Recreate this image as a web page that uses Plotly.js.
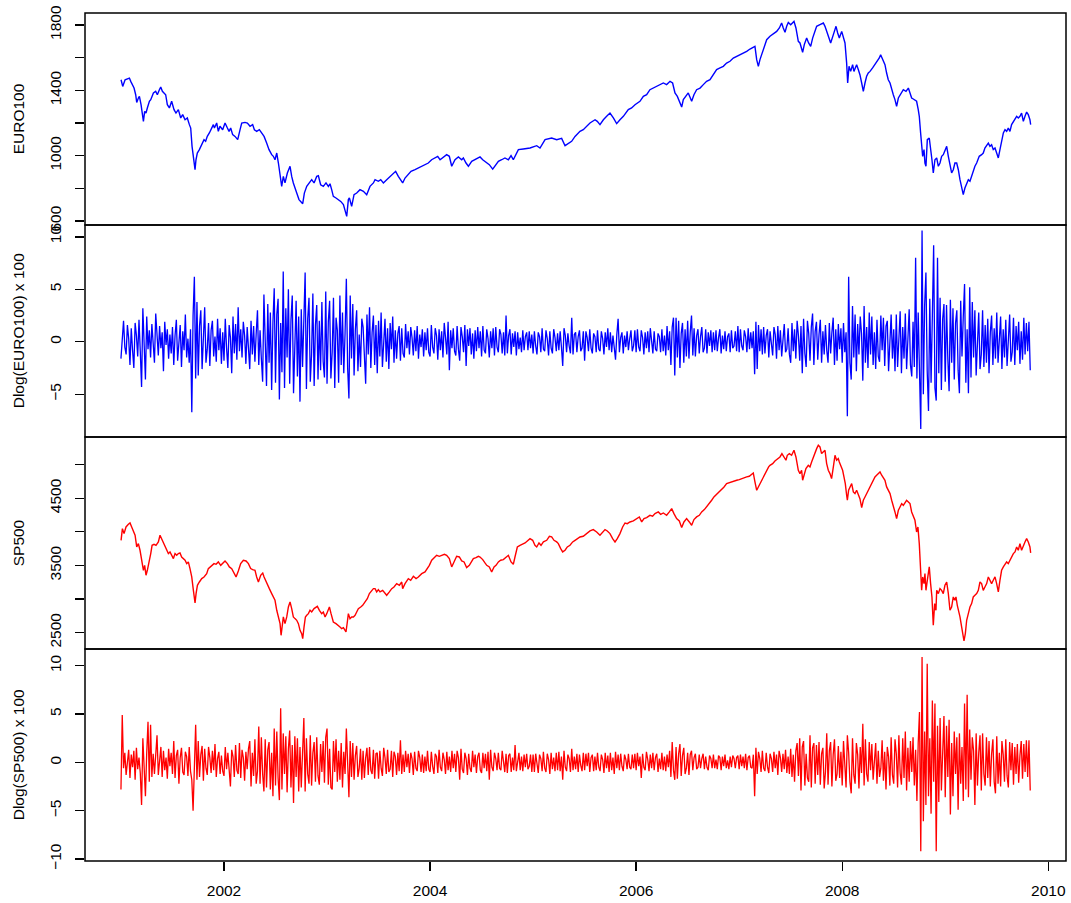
<!DOCTYPE html>
<html><head><meta charset="utf-8">
<script src="https://cdn.plot.ly/plotly-3.0.1.min.js"></script>
<style>html,body{margin:0;padding:0;background:#fff}#chart{width:1071px;height:903px}</style>
</head><body><div id="chart"></div>
<script>
// ---- x axis ----
const xTicks = [2002, 2004, 2006, 2008, 2010];
const xTickLabels = ['2002', '2004', '2006', '2008', '2010'];

// ---- EURO100 level (decimal year, value) ----
const euroT = [
2001.001,2001.017,2001.040,2001.082,2001.095,2001.114,2001.127,2001.143,2001.153,2001.169,2001.179,2001.195,2001.208,2001.218,2001.230,2001.243,2001.256,2001.276,2001.289,2001.315,
2001.337,2001.353,2001.373,2001.386,2001.402,2001.421,2001.434,2001.450,2001.470,2001.492,2001.515,2001.534,2001.557,2001.580,2001.599,2001.622,2001.644,2001.664,2001.677,2001.690,
2001.703,2001.719,2001.728,2001.741,2001.761,2001.783,2001.806,2001.822,2001.838,2001.858,2001.874,2001.897,2001.907,2001.929,2001.945,2001.961,2001.987,2002.010,2002.033,2002.049,
2002.065,2002.084,2002.107,2002.133,2002.156,2002.172,2002.204,2002.227,2002.253,2002.278,2002.295,2002.317,2002.343,2002.366,2002.389,2002.414,2002.437,2002.463,2002.479,2002.495,
2002.512,2002.528,2002.544,2002.560,2002.576,2002.592,2002.615,2002.641,2002.657,2002.673,2002.706,2002.728,2002.764,2002.780,2002.803,2002.828,2002.851,2002.874,2002.900,2002.916,
2002.938,2002.964,2002.990,2003.013,2003.029,2003.045,2003.061,2003.087,2003.110,2003.133,2003.159,2003.175,2003.191,2003.207,2003.217,2003.239,2003.262,2003.288,2003.320,2003.353,
2003.385,2003.417,2003.450,2003.466,2003.498,2003.521,2003.547,2003.579,2003.611,2003.644,2003.666,2003.692,2003.734,2003.757,2003.783,2003.815,2003.854,2003.886,2003.919,2003.951,
2003.983,2004.015,2004.048,2004.074,2004.097,2004.122,2004.161,2004.187,2004.210,2004.242,2004.275,2004.307,2004.323,2004.349,2004.372,2004.404,2004.436,2004.485,2004.511,2004.550,
2004.575,2004.608,2004.640,2004.663,2004.695,2004.727,2004.760,2004.786,2004.808,2004.834,2004.857,2004.905,2004.970,2005.035,2005.067,2005.116,2005.148,2005.180,2005.229,2005.277,
2005.310,2005.342,2005.374,2005.407,2005.455,2005.487,2005.520,2005.552,2005.601,2005.623,2005.649,2005.682,2005.714,2005.746,2005.779,2005.811,2005.843,2005.876,2005.924,2005.956,
2005.989,2006.037,2006.070,2006.102,2006.134,2006.167,2006.199,2006.231,2006.264,2006.296,2006.329,2006.354,2006.377,2006.400,2006.442,2006.458,2006.484,2006.506,2006.539,2006.561,
2006.587,2006.620,2006.652,2006.684,2006.717,2006.749,2006.781,2006.814,2006.846,2006.878,2006.911,2006.943,2006.976,2007.008,2007.040,2007.073,2007.105,2007.137,2007.153,2007.170,
2007.186,2007.202,2007.218,2007.241,2007.267,2007.299,2007.331,2007.364,2007.390,2007.412,2007.428,2007.445,2007.461,2007.477,2007.500,2007.519,2007.532,2007.551,2007.574,2007.590,
2007.616,2007.632,2007.655,2007.674,2007.694,2007.713,2007.736,2007.752,2007.784,2007.817,2007.833,2007.849,2007.865,2007.888,2007.914,2007.940,2007.956,2007.972,2007.995,2008.011,
2008.027,2008.043,2008.053,2008.066,2008.082,2008.101,2008.114,2008.127,2008.140,2008.156,2008.172,2008.189,2008.205,2008.221,2008.237,2008.253,2008.270,2008.295,2008.318,2008.341,
2008.360,2008.373,2008.392,2008.415,2008.431,2008.447,2008.464,2008.480,2008.496,2008.512,2008.528,2008.545,2008.561,2008.577,2008.593,2008.619,2008.642,2008.658,2008.674,2008.690,
2008.706,2008.722,2008.738,2008.748,2008.761,2008.771,2008.781,2008.794,2008.803,2008.813,2008.826,2008.845,2008.858,2008.871,2008.884,2008.900,2008.917,2008.933,2008.949,2008.965,
2008.981,2008.997,2009.014,2009.030,2009.046,2009.062,2009.078,2009.094,2009.111,2009.127,2009.143,2009.159,2009.175,2009.191,2009.208,2009.224,2009.240,2009.256,2009.272,2009.288,
2009.305,2009.330,2009.353,2009.369,2009.385,2009.402,2009.418,2009.434,2009.450,2009.466,2009.483,2009.499,2009.515,2009.531,2009.547,2009.564,2009.580,2009.596,2009.612,2009.628,
2009.644,2009.661,2009.677,2009.693,2009.709,2009.725,2009.741,2009.758,2009.774,2009.790,2009.806,2009.822,2009.829];
const euroLevel = [
1465,1424,1465,1475,1455,1435,1414,1373,1326,1353,1363,1312,1261,1210,1271,1261,1292,1333,1343,1384,
1394,1373,1404,1420,1394,1384,1373,1312,1292,1333,1282,1261,1282,1231,1251,1220,1231,1190,1169,1057,
975,914,975,1016,1037,1067,1098,1088,1118,1139,1159,1190,1169,1200,1149,1180,1159,1200,1169,1149,
1169,1129,1118,1098,1159,1200,1204,1200,1180,1190,1159,1149,1159,1139,1118,1077,1037,1006,996,975,
1016,955,873,812,873,833,894,935,873,833,771,731,706,771,812,833,853,833,873,877,
822,812,833,812,828,792,751,741,731,720,700,669,628,731,741,690,761,771,792,782,
761,812,833,853,843,853,833,853,873,894,904,873,833,863,884,904,914,924,935,945,
955,975,986,996,975,986,1006,996,935,975,992,975,986,955,935,965,975,992,975,955,
945,918,945,965,975,986,975,1000,975,1006,1037,1041,1047,1061,1047,1098,1102,1108,1098,1106,
1061,1077,1088,1118,1149,1159,1180,1200,1220,1210,1190,1220,1241,1261,1231,1196,1220,1241,1282,1292,
1312,1333,1363,1373,1404,1414,1424,1435,1445,1435,1455,1445,1384,1363,1298,1343,1363,1384,1333,1373,
1404,1414,1435,1455,1465,1496,1527,1537,1547,1567,1578,1598,1608,1618,1629,1639,1653,1665,1669,1588,
1547,1588,1618,1659,1710,1731,1747,1761,1782,1812,1782,1755,1792,1816,1802,1812,1822,1782,1700,1690,
1633,1680,1720,1690,1669,1720,1761,1792,1802,1812,1792,1761,1731,1690,1741,1792,1751,1720,1761,1731,
1690,1567,1445,1547,1516,1557,1516,1537,1557,1527,1496,1445,1394,1445,1486,1506,1516,1537,1557,1578,
1598,1618,1588,1557,1506,1465,1445,1404,1373,1343,1302,1353,1373,1384,1404,1394,1414,1384,1353,1347,
1339,1333,1282,1241,1139,1057,996,1037,955,935,1098,1108,1016,975,894,975,986,935,955,996,
1006,1026,1057,996,935,894,914,955,955,914,853,812,761,802,833,853,843,873,914,935,
955,996,1006,1016,1047,1067,1077,1057,1067,1037,1047,1016,986,1037,1088,1139,1159,1149,1169,1149,
1190,1210,1220,1241,1231,1241,1261,1210,1241,1267,1251,1220,1190];

// ---- SP500 level (decimal year, value) ----
const spT = [
2001.001,2001.014,2001.030,2001.049,2001.072,2001.088,2001.104,2001.120,2001.137,2001.153,2001.169,2001.185,2001.201,2001.218,2001.230,2001.243,2001.256,2001.276,2001.289,2001.302,
2001.321,2001.340,2001.363,2001.379,2001.395,2001.412,2001.428,2001.444,2001.460,2001.476,2001.492,2001.509,2001.525,2001.541,2001.557,2001.573,2001.589,2001.606,2001.622,2001.638,
2001.654,2001.670,2001.687,2001.703,2001.719,2001.729,2001.742,2001.761,2001.784,2001.806,2001.832,2001.848,2001.865,2001.881,2001.903,2001.923,2001.945,2001.968,2001.987,2002.010,
2002.033,2002.052,2002.075,2002.097,2002.117,2002.139,2002.162,2002.188,2002.214,2002.237,2002.259,2002.278,2002.301,2002.317,2002.334,2002.356,2002.376,2002.389,2002.414,2002.440,
2002.463,2002.479,2002.495,2002.512,2002.528,2002.544,2002.554,2002.567,2002.576,2002.592,2002.609,2002.625,2002.641,2002.657,2002.673,2002.689,2002.706,2002.722,2002.738,2002.754,
2002.764,2002.777,2002.790,2002.803,2002.819,2002.835,2002.851,2002.874,2002.893,2002.906,2002.926,2002.948,2002.964,2002.981,2002.997,2003.013,2003.023,2003.039,2003.061,2003.087,
2003.110,2003.126,2003.142,2003.159,2003.175,2003.184,2003.197,2003.207,2003.223,2003.239,2003.256,2003.272,2003.288,2003.304,2003.327,2003.346,2003.369,2003.391,2003.411,2003.433,
2003.450,2003.466,2003.482,2003.498,2003.514,2003.540,2003.563,2003.579,2003.605,2003.628,2003.650,2003.676,2003.702,2003.725,2003.734,2003.757,2003.789,2003.812,2003.838,2003.864,
2003.886,2003.919,2003.951,2003.974,2003.993,2004.016,2004.038,2004.064,2004.090,2004.113,2004.139,2004.161,2004.187,2004.210,2004.233,2004.258,2004.284,2004.307,2004.330,2004.355,
2004.381,2004.404,2004.420,2004.446,2004.469,2004.485,2004.511,2004.533,2004.550,2004.575,2004.598,2004.621,2004.640,2004.663,2004.685,2004.711,2004.737,2004.760,2004.786,2004.808,
2004.824,2004.847,2004.873,2004.899,2004.922,2004.944,2004.970,2004.996,2005.018,2005.035,2005.057,2005.077,2005.100,2005.132,2005.158,2005.180,2005.203,2005.229,2005.245,2005.268,
2005.287,2005.310,2005.332,2005.358,2005.384,2005.407,2005.429,2005.455,2005.487,2005.520,2005.552,2005.584,2005.617,2005.649,2005.675,2005.698,2005.720,2005.746,2005.772,2005.795,
2005.817,2005.843,2005.869,2005.892,2005.914,2005.940,2005.973,2006.005,2006.031,2006.054,2006.076,2006.102,2006.134,2006.160,2006.183,2006.215,2006.238,2006.264,2006.296,2006.322,
2006.345,2006.367,2006.393,2006.419,2006.442,2006.464,2006.490,2006.516,2006.539,2006.561,2006.587,2006.613,2006.636,2006.662,2006.684,2006.710,2006.733,2006.755,2006.781,2006.807,
2006.830,2006.853,2006.878,2006.904,2006.927,2006.950,2006.976,2007.001,2007.024,2007.047,2007.073,2007.098,2007.121,2007.137,2007.153,2007.170,2007.186,2007.202,2007.218,2007.241,
2007.267,2007.286,2007.299,2007.325,2007.347,2007.370,2007.396,2007.415,2007.435,2007.454,2007.467,2007.487,2007.509,2007.532,2007.551,2007.574,2007.590,2007.606,2007.616,2007.632,
2007.648,2007.671,2007.687,2007.703,2007.720,2007.736,2007.752,2007.768,2007.784,2007.800,2007.817,2007.833,2007.849,2007.865,2007.881,2007.897,2007.914,2007.930,2007.946,2007.962,
2007.972,2007.988,2008.004,2008.017,2008.030,2008.043,2008.050,2008.062,2008.075,2008.092,2008.108,2008.124,2008.140,2008.156,2008.172,2008.189,2008.205,2008.221,2008.237,2008.253,
2008.270,2008.286,2008.302,2008.318,2008.334,2008.350,2008.367,2008.383,2008.399,2008.415,2008.431,2008.447,2008.464,2008.480,2008.496,2008.512,2008.528,2008.545,2008.561,2008.577,
2008.593,2008.609,2008.625,2008.642,2008.658,2008.674,2008.690,2008.706,2008.722,2008.735,2008.748,2008.761,2008.771,2008.781,2008.794,2008.803,2008.813,2008.826,2008.836,2008.845,
2008.858,2008.871,2008.884,2008.897,2008.910,2008.917,2008.933,2008.949,2008.965,2008.981,2008.997,2009.014,2009.030,2009.046,2009.062,2009.078,2009.094,2009.104,2009.117,2009.130,
2009.143,2009.159,2009.175,2009.182,2009.195,2009.208,2009.224,2009.240,2009.256,2009.272,2009.288,2009.305,2009.321,2009.337,2009.353,2009.369,2009.385,2009.402,2009.418,2009.434,
2009.450,2009.466,2009.483,2009.499,2009.515,2009.531,2009.547,2009.564,2009.580,2009.596,2009.612,2009.628,2009.644,2009.661,2009.677,2009.693,2009.709,2009.725,2009.741,2009.758,
2009.774,2009.790,2009.806,2009.822,2009.829];
const spLevel = [
3874,4048,3974,4073,4112,4132,4073,3998,3949,3775,3825,3726,3552,3428,3502,3354,3428,3552,3676,3800,
3815,3800,3850,3949,3899,3825,3800,3726,3676,3701,3651,3602,3676,3651,3676,3686,3626,3602,3577,3527,
3552,3453,3329,3130,2942,3081,3205,3254,3304,3329,3378,3453,3478,3502,3527,3517,3552,3502,3527,3567,
3527,3478,3453,3378,3329,3418,3527,3577,3567,3527,3453,3438,3428,3329,3254,3354,3388,3329,3230,3155,
3081,3031,2982,2833,2734,2634,2461,2634,2734,2634,2734,2882,2957,2858,2734,2709,2684,2634,2535,2486,
2411,2585,2734,2758,2783,2833,2808,2858,2882,2892,2833,2783,2808,2734,2783,2858,2882,2783,2659,2634,
2610,2585,2560,2575,2535,2510,2659,2783,2709,2734,2734,2758,2808,2858,2882,2907,2957,3006,3081,3130,
3155,3155,3106,3140,3106,3130,3081,3056,3106,3155,3180,3230,3205,3254,3155,3230,3304,3279,3339,3304,
3329,3378,3403,3453,3502,3577,3616,3651,3636,3651,3666,3651,3602,3478,3552,3636,3626,3567,3552,3468,
3502,3552,3602,3616,3636,3626,3587,3537,3502,3478,3403,3478,3502,3552,3577,3587,3616,3651,3552,3517,
3626,3775,3800,3815,3835,3865,3899,3874,3800,3775,3835,3800,3850,3874,3934,3924,3874,3850,3825,3750,
3701,3726,3775,3800,3850,3874,3899,3924,3934,3974,4013,4033,3998,3949,3998,4033,4013,3974,3899,3850,
3899,3974,4073,4132,4122,4147,4162,4197,4222,4147,4197,4212,4246,4232,4271,4296,4261,4281,4246,4296,
4346,4271,4197,4162,4063,4147,4197,4147,4098,4182,4222,4246,4296,4331,4370,4420,4470,4519,4559,4594,
4628,4668,4718,4728,4742,4757,4767,4777,4792,4807,4817,4827,4856,4876,4742,4618,4668,4718,4767,4827,
4916,4966,4990,5015,5055,5090,5114,5164,5104,5065,5139,5164,5139,5214,5114,4916,4866,4916,4767,4866,
4941,4990,4966,5040,5114,5189,5238,5288,5263,5164,5189,5214,5015,4916,4866,4792,4966,5139,5065,5090,
5040,4966,4916,4817,4718,4544,4470,4618,4668,4718,4594,4569,4618,4544,4494,4360,4470,4519,4569,4618,
4668,4742,4792,4817,4842,4866,4891,4842,4792,4767,4668,4618,4569,4470,4395,4296,4197,4321,4370,4420,
4395,4445,4470,4445,4420,4296,4222,4172,3998,4073,3825,3428,3130,3329,3230,3378,3130,3279,3428,3478,
3230,3031,2610,2932,2833,3130,3081,3155,3130,3081,3205,3254,3081,2833,2882,3031,2982,3031,2907,2833,
2734,2585,2436,2376,2486,2684,2783,2882,2932,3031,3056,3081,3130,3254,3230,3130,3180,3230,3329,3279,
3230,3279,3329,3230,3106,3279,3428,3478,3527,3552,3527,3577,3602,3676,3701,3775,3726,3825,3726,3800,
3850,3899,3850,3775,3686];

// ---- log-returns x 100, read every 0.0125 year from 2001.000 (one row = one quarter) ----
const retStart = 2001.0;
const retStep = 0.0125;
const euroRet = [
// 2001
-1.6,0.8,2.0,-0.5,-1.2,1.6,0.3,-2.2,1.3,-0.8,-2.5,1.8,0.6,-1.4,2.1,-0.9,-4.3,3.2,-1.1,-3.6,
2.4,-0.7,1.1,-1.5,1.7,-0.4,-2.0,2.7,0.5,-1.3,1.5,-0.6,0.9,-2.8,1.9,-0.3,1.2,-1.6,0.7,-1.1,
1.4,-2.2,0.6,2.1,-1.8,0.4,1.6,-2.4,1.0,-0.8,2.6,-1.5,0.3,-2.0,1.2,-6.7,2.5,6.2,-3.5,3.8,
-3.2,1.5,3.0,-2.6,0.8,3.3,-2.0,-0.7,1.8,-2.3,1.1,2.0,-1.4,0.5,-1.9,2.2,-0.8,1.3,-2.1,0.9,
// 2002
-1.8,2.2,-0.6,-2.5,1.6,0.4,-3.0,2.4,-1.1,1.7,-1.7,3.3,-0.9,1.2,-1.5,1.9,0.6,-2.1,1.4,-0.8,
-2.6,2.0,-1.2,1.5,-1.9,0.8,3.0,-2.2,1.1,-1.6,-3.8,4.5,-1.5,-4.2,3.6,-2.0,2.8,-4.6,1.9,5.1,
-3.9,2.6,4.1,-5.5,1.8,-2.9,6.7,-4.4,3.2,-1.5,5.0,-4.0,2.1,4.4,-4.9,0.9,3.9,-3.3,2.4,-5.7,
3.1,-2.4,1.4,6.6,-4.5,2.2,4.2,-3.8,-1.2,4.6,-4.2,1.6,3.5,-3.6,2.0,-2.7,3.8,-1.9,-3.4,4.8,
// 2003
-4.0,1.9,3.9,-3.5,-1.0,4.2,-4.4,2.3,1.1,-3.9,4.4,-2.2,2.8,-3.0,0.8,6.0,-2.5,-5.4,4.4,-1.6,
3.6,-3.2,1.2,3.0,-2.8,0.7,-2.4,2.2,1.4,-1.9,-4.0,2.6,-1.2,3.3,-2.5,0.9,2.5,-2.2,1.6,-3.0,
2.0,-1.4,2.8,-2.4,0.6,2.2,-1.9,1.3,-2.6,1.8,-0.7,2.4,-2.0,1.1,-1.6,0.8,1.5,-1.8,1.3,-1.1,
-1.5,1.7,-0.6,1.0,-1.2,1.4,0.4,-1.3,1.1,-0.9,1.5,-1.6,0.7,-0.5,1.2,-1.4,0.9,-0.8,1.3,-1.0,
// 2004
-1.4,1.6,-0.5,-1.1,1.3,0.6,-1.7,1.2,-0.8,1.0,-1.5,1.8,0.4,-1.2,1.9,-2.7,1.1,-0.6,1.3,-0.9,
-1.3,1.5,-0.7,-1.8,1.4,0.5,-1.0,1.6,-2.3,1.2,-0.4,1.3,-1.2,0.8,-1.6,1.1,-0.9,1.4,-0.6,1.0,
-1.4,1.5,-0.8,-1.1,1.2,0.3,-1.5,1.0,-0.6,1.3,-1.3,1.4,-0.5,-1.0,1.2,0.7,-1.1,0.9,-1.3,2.5,
-1.1,0.6,1.2,-1.2,0.8,-0.5,1.0,-1.3,0.9,-0.7,0.4,-1.0,1.1,-0.8,0.5,0.9,-0.8,1.0,-0.6,0.7,
// 2005
-1.1,1.0,-0.4,-1.2,0.9,0.5,-1.0,1.3,-0.7,-0.9,1.1,0.3,-1.3,1.0,-0.6,-1.1,1.2,0.4,-0.9,0.8,
-0.8,1.0,-0.5,-2.3,1.3,0.6,-1.0,0.8,-0.4,-1.1,2.3,-1.2,0.7,0.9,-1.0,0.5,1.1,-0.9,-0.6,1.0,
-1.8,1.0,0.4,-0.9,1.2,-0.6,-1.1,0.8,0.5,-1.0,1.1,-0.7,-0.9,1.0,0.3,-1.2,0.9,-0.5,1.3,-0.8,
0.9,-1.0,0.6,-0.8,-1.7,0.7,2.2,-1.0,0.4,0.9,-1.1,0.6,-0.5,1.0,-0.8,0.3,1.1,-0.9,-0.4,1.1,
// 2006
-1.0,1.2,-0.5,-0.9,1.1,0.4,-1.2,0.9,-0.6,1.0,-1.0,1.3,0.3,-1.1,1.0,-0.7,-0.9,0.8,0.5,-1.0,
1.2,-0.9,0.6,-1.3,1.5,-0.8,1.0,-2.2,1.4,2.3,-3.2,2.3,-1.5,2.0,-2.5,0.8,1.8,-2.0,1.2,-1.4,
2.0,-1.6,0.9,2.5,-1.3,1.3,-1.4,0.6,1.2,-1.1,0.5,1.4,-1.0,-0.6,1.2,-1.1,0.9,-0.4,1.1,-1.0,
0.9,-0.8,1.1,-0.9,0.4,1.2,-1.1,0.6,-0.7,1.0,-0.9,0.5,0.8,-1.0,1.1,-0.6,-0.4,1.0,-0.9,1.5,
// 2007
-1.0,1.2,-0.4,-0.8,1.1,0.5,-1.0,1.3,-0.7,0.9,-0.6,1.0,-3.1,1.9,-2.6,1.6,-0.9,1.2,-1.2,1.4,
-1.1,0.6,1.2,-1.5,1.0,-0.5,-1.3,1.4,0.7,-1.6,1.5,-0.8,1.1,-1.4,0.5,1.7,-1.0,-0.7,1.3,-1.2,
-2.0,1.8,-0.9,1.2,-1.6,2.0,0.6,-1.8,1.5,-3.0,2.2,-1.1,-2.4,2.0,0.8,-1.8,1.4,2.7,-2.2,1.0,
1.9,-1.7,0.7,2.1,-2.0,1.0,-1.2,1.6,-0.8,-2.0,1.8,-1.1,0.9,2.3,-2.2,1.2,-1.8,1.7,-0.7,1.3,
// 2008
-2.0,1.8,-1.0,0.9,-7.1,6.2,-2.0,-3.6,3.4,-1.5,2.6,-2.8,1.7,-1.2,2.4,0.8,-3.7,3.4,-2.0,1.4,
-2.5,2.8,-1.2,2.4,-2.2,0.9,-2.6,2.1,-1.4,-1.9,2.5,-0.8,2.3,-2.3,1.5,2.0,-2.8,0.7,2.6,-1.6,
1.2,-2.8,2.6,-2.4,1.0,2.9,-3.0,1.4,-1.6,2.7,-2.6,0.8,3.1,-2.2,-3.3,1.9,-2.4,8.0,-3.5,2.8,
-4.2,-8.3,10.6,-5.0,3.5,6.6,-2.8,-6.6,4.1,-3.9,2.5,9.2,-4.4,-5.6,8.0,-3.0,4.2,-4.6,2.2,3.6,
// 2009
-3.8,3.5,-1.6,-4.7,4.0,-2.0,3.2,-3.6,1.8,3.0,-2.7,-4.9,3.9,-1.4,2.4,5.5,-3.9,1.2,-4.9,5.2,
-3.4,3.8,-1.5,3.0,-3.2,1.0,2.8,-2.6,-1.2,3.0,-2.4,1.6,-2.0,2.2,-3.0,0.9,2.5,-2.2,1.3,-1.6,
2.8,-2.0,0.7,2.4,-2.6,1.2,-1.5,2.1,-2.3,0.6,2.6,-1.9,-1.0,2.3,-2.2,1.5,-0.8,1.9,-2.1,1.0,
-1.7,2.3,-1.2,1.8,-0.9,1.9,-2.7];
const spRet = [
// 2001
-2.8,4.9,-0.6,1.0,-1.3,0.4,1.3,-1.6,0.8,-0.5,1.2,-1.8,1.5,-0.7,0.5,-1.1,-4.4,2.5,-1.0,-3.5,
1.0,4.2,-2.0,3.9,-1.5,0.9,-1.2,1.6,2.8,-1.3,0.6,1.6,-1.5,1.2,-0.8,0.5,-1.7,1.4,-0.4,1.0,
-1.2,2.2,-1.6,0.7,1.3,-2.2,0.5,1.5,-1.0,-1.3,1.1,0.6,-1.4,1.6,-0.9,-1.8,-5.0,1.2,3.9,-1.8,
2.2,-1.5,0.8,1.7,-1.9,1.4,-0.6,-1.3,1.6,0.5,-1.1,1.2,-0.8,1.9,-1.5,0.4,1.1,-1.2,0.7,-0.9,
// 2002
-1.4,1.6,-0.7,1.0,-1.2,-2.5,1.3,0.6,-1.5,1.8,-0.8,-1.2,2.0,-1.6,1.3,0.5,-1.9,1.1,-0.7,1.4,
2.2,-2.5,1.0,-1.4,2.4,-2.2,-0.9,3.7,-2.2,2.6,-1.2,-3.0,2.4,-2.6,1.3,2.1,-2.8,1.0,-3.5,3.5,
-2.4,3.2,-1.6,-3.9,5.6,-2.8,3.0,-1.2,2.7,-3.1,1.4,3.3,-2.6,1.8,-4.2,2.7,-1.5,2.5,-3.0,1.6,
-2.6,1.8,4.6,-3.0,2.5,-1.2,-2.2,2.8,-2.4,1.0,2.1,-2.0,2.6,-1.4,-2.3,1.9,-1.0,2.2,-2.1,2.6,
// 2003
3.5,-2.3,1.4,-2.6,-2.8,2.2,-1.0,2.4,-2.0,1.2,-1.8,2.0,-2.6,1.1,-1.2,3.5,-1.4,-3.6,2.2,-1.5,
2.0,-1.8,0.7,1.7,-1.5,-0.6,1.4,-1.8,1.2,-1.6,0.5,1.5,-1.3,1.6,-0.8,-1.2,1.3,-1.7,0.9,1.0,
-1.7,1.2,-0.6,-1.4,1.5,0.5,-1.2,1.3,-1.0,-0.7,1.2,-1.5,1.1,0.6,-1.3,1.0,-0.9,2.3,-1.2,0.8,
-1.0,1.2,-0.5,0.9,-1.1,1.0,0.4,-1.3,1.1,-0.6,-0.9,1.2,0.5,-1.0,0.8,-1.1,0.6,-0.9,1.2,-0.7,
// 2004
-1.0,1.1,-0.4,-1.2,0.9,0.6,-1.1,1.3,-0.5,-0.9,1.0,0.3,-1.2,1.1,-0.8,0.6,-1.0,1.2,-0.6,0.9,
-1.0,1.2,0.5,-1.8,1.4,-0.7,-1.1,1.0,0.4,-1.3,0.9,-0.6,-1.0,1.2,-0.5,0.8,-1.1,0.6,1.0,-0.8,
-1.1,1.0,-0.6,0.9,-0.9,1.1,-1.8,1.3,-0.5,-0.9,1.0,0.4,-0.8,1.0,-0.6,-0.8,1.2,0.3,-1.0,0.9,
-1.1,0.7,0.9,-1.0,0.5,-0.8,1.8,-0.9,0.4,1.0,-0.8,0.6,-0.9,0.8,-0.5,0.9,-0.7,-0.4,0.8,-1.0,
// 2005
0.8,-1.0,0.9,-0.5,-1.1,0.8,0.4,-0.9,1.1,-0.6,-1.0,0.9,0.3,-1.2,1.0,-0.7,0.5,-0.9,1.0,-0.8,
1.1,-0.9,0.6,-1.8,1.2,-0.5,-0.9,0.8,0.4,-1.0,1.4,-0.8,0.6,-0.7,0.9,-1.0,0.8,-0.3,-0.9,1.0,
-0.8,0.9,-0.4,1.0,-1.0,0.5,0.8,-0.9,0.6,-0.8,1.0,-0.5,-0.9,0.8,0.3,-1.1,1.0,-0.6,0.7,-1.0,
1.0,-0.8,0.5,-1.2,1.1,-0.6,0.8,-0.8,0.9,-0.4,-0.9,0.8,0.3,-0.7,0.9,-0.5,-0.7,0.8,-0.6,0.9,
// 2006
-0.8,1.0,-0.4,0.6,-1.6,0.9,-0.5,-0.8,1.1,0.3,-0.9,0.8,-0.6,1.0,-0.8,0.5,0.9,-1.0,0.4,-0.7,
1.0,-0.8,0.6,-0.9,0.8,-0.5,1.2,-1.5,2.1,-0.8,-1.8,1.6,-1.7,0.9,1.9,-1.4,0.7,1.5,-1.2,-0.6,
1.0,-1.3,0.8,1.2,-0.8,0.5,0.9,-0.7,-0.5,0.8,-0.6,0.4,0.9,-0.7,0.6,-0.5,-0.8,0.7,0.4,-0.6,
0.8,-0.6,0.3,-0.7,0.7,0.5,-0.8,0.6,-0.4,0.8,-0.6,0.2,-0.7,0.6,-0.5,0.7,0.4,-0.6,0.5,0.7,
// 2007
-0.7,0.8,-0.4,0.6,-0.6,0.9,-0.8,0.5,0.7,-0.5,-0.6,0.8,-3.5,1.5,-1.2,1.1,0.4,-1.0,1.2,-0.6,
-0.9,1.0,-0.5,-1.1,0.9,0.4,-1.0,1.1,-0.6,0.8,-1.3,1.2,0.5,-1.0,0.9,-0.7,1.3,-1.1,0.6,-1.2,
1.4,-1.5,0.8,-2.0,1.2,2.0,-1.4,2.5,-2.9,1.6,2.2,-2.4,0.9,-1.6,-2.0,2.8,-2.6,1.5,2.0,-2.2,
1.8,-1.3,2.1,-2.3,0.9,1.5,-2.7,-1.0,3.0,-2.3,1.2,2.1,-2.5,0.8,2.4,-1.9,-1.2,1.7,-1.6,1.1,
// 2008
-2.4,2.2,-1.0,-2.6,2.8,1.0,-2.0,-3.2,2.5,-1.3,-2.2,2.0,0.8,-2.7,1.6,-1.1,4.0,-2.4,2.4,-1.2,
-2.0,2.1,-0.8,1.9,-1.8,0.7,2.0,-2.2,1.2,-1.5,-0.6,2.3,-1.9,1.1,-2.8,1.6,0.6,-2.4,2.6,-1.3,
-2.2,2.4,0.9,-2.6,2.8,-1.1,-2.3,2.5,-1.6,3.2,-2.9,1.5,-2.0,2.2,-1.0,2.6,-2.4,1.3,-4.0,2.0,
5.2,-9.2,10.9,-6.1,3.2,-4.4,10.2,-3.5,2.5,-5.3,6.4,-2.0,6.1,-9.2,3.8,-4.1,4.6,-2.9,1.8,4.8,
// 2009
-3.6,3.8,-1.5,4.4,-5.4,2.0,-3.5,3.2,-1.2,2.6,-4.9,3.0,-2.2,1.6,-4.0,6.1,-2.8,7.0,-3.6,3.4,
-1.8,2.6,1.2,-4.4,3.0,-2.4,1.0,2.8,-2.9,3.0,-1.2,-2.4,2.6,-1.6,2.2,-2.5,0.9,2.4,-2.0,-3.2,
2.7,-2.2,1.0,-2.5,2.2,0.8,-2.0,2.4,-1.4,-2.6,2.1,-0.8,2.0,-2.3,1.6,-1.2,1.9,-2.1,0.7,2.2,
-1.7,1.9,-1.0,2.3,-1.5,2.3,-2.9];

const euroRetT = euroRet.map((_, i) => retStart + i * retStep);
const spRetT = spRet.map((_, i) => retStart + i * retStep);

// ---- panel setup ----
const panels = [
  {title: 'EURO100', range: [575.5, 1873.5], ticks: [600, 1000, 1400, 1800], minor: [800, 1200, 1600], dom: [0.75, 1]},
  {title: 'Dlog(EURO100) x 100', range: [-9.07, 11.13], ticks: [-5, 0, 5, 10], minor: [], dom: [0.5, 0.75]},
  {title: 'SP500', range: [2257, 5411], ticks: [2500, 3500, 4500], minor: [3000, 4000, 5000], dom: [0.25, 0.5]},
  {title: 'Dlog(SP500) x 100', range: [-10.2, 11.73], ticks: [-10, -5, 0, 5, 10], minor: [], dom: [0, 0.25]}
];

const FONT = {family: 'Liberation Sans, Arial, Helvetica, sans-serif', size: 15.5, color: '#000'};
const BLUE = '#0000ff', RED = '#ff0000';

const traces = [
  {x: euroT, y: euroLevel, yaxis: 'y', color: BLUE, w: 1.4},
  {x: euroRetT, y: euroRet, yaxis: 'y2', color: BLUE, w: 1.3},
  {x: spT, y: spLevel, yaxis: 'y3', color: RED, w: 1.4},
  {x: spRetT, y: spRet, yaxis: 'y4', color: RED, w: 1.3}
].map(t => ({type: 'scatter', mode: 'lines', x: t.x, y: t.y, xaxis: 'x', yaxis: t.yaxis,
  line: {color: t.color, width: t.w}, hoverinfo: 'skip'}));

const layout = {
  width: 1071, height: 903,
  margin: {l: 85, r: 5, t: 13, b: 42},
  paper_bgcolor: '#fff', plot_bgcolor: '#fff',
  showlegend: false, font: FONT,
  xaxis: {
    anchor: 'y4', range: [2000.651, 2010.172],
    tickmode: 'array', tickvals: xTicks, ticktext: xTickLabels,
    ticks: 'outside', ticklen: 9, tickwidth: 1.3, tickcolor: '#000', ticklabelstandoff: 6,
    showgrid: false, zeroline: false, showline: false, tickfont: FONT
  },
  shapes: [], annotations: []
};

panels.forEach((p, i) => {
  const key = i === 0 ? 'yaxis' : 'yaxis' + (i + 1);
  const ax = {
    domain: p.dom, anchor: 'x', range: p.range,
    tickmode: 'array', tickvals: p.ticks, ticktext: p.ticks.map(v => v < 0 ? '\u2212' + Math.abs(v) : String(v)),
    ticks: 'outside', ticklen: 9, tickwidth: 1.3, tickcolor: '#000', ticklabelstandoff: 8,
    tickangle: -90, tickfont: FONT,
    showgrid: false, zeroline: false, showline: false
  };
  if (p.minor.length) {
    ax.minor = {tickmode: 'array', tickvals: p.minor, ticks: 'outside', ticklen: 9,
      tickwidth: 1.3, tickcolor: '#000', showgrid: false};
  }
  layout[key] = ax;
  layout.shapes.push({type: 'rect', xref: 'paper', yref: 'paper', x0: 0, x1: 1,
    y0: p.dom[0], y1: p.dom[1], line: {color: '#000', width: 1.5}, layer: 'above'});
  layout.annotations.push({xref: 'paper', yref: 'paper', x: (18.3 - 85) / 981,
    y: (p.dom[0] + p.dom[1]) / 2, text: p.title, textangle: -90, showarrow: false,
    xanchor: 'center', yanchor: 'middle', font: FONT});
});

Plotly.newPlot('chart', traces, layout, {displayModeBar: false, staticPlot: true});
</script></body></html>
